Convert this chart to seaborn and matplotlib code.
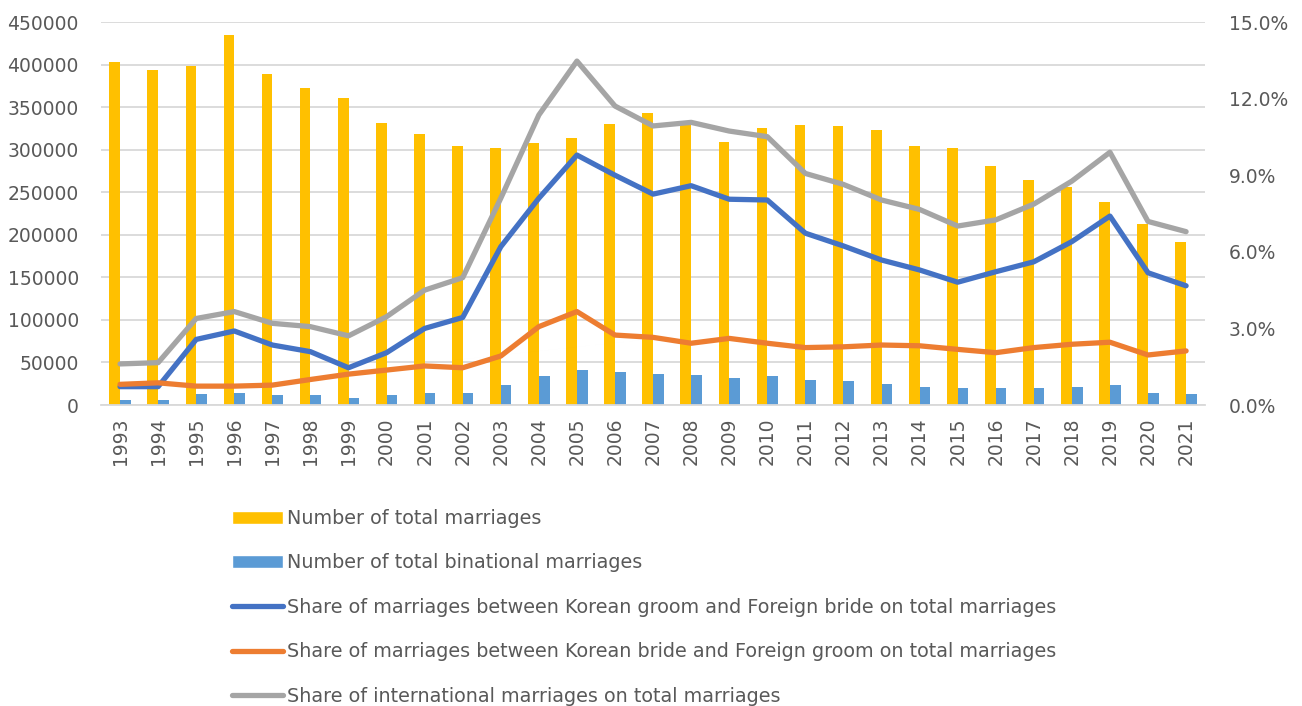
import seaborn as sns
import matplotlib.pyplot as plt
import matplotlib.ticker as mticker
from matplotlib.patches import Patch
from matplotlib.lines import Line2D
import numpy as np
import pandas as pd

years = [str(y) for y in range(1993, 2022)]
# bars, left axis
total_marriages = [402600, 393600, 398300, 434400, 388900, 372500, 360400, 331700, 318400, 304700,
                   302000, 307900, 313700, 330200, 343500, 329000, 309400, 325800, 329000, 327400,
                   322700, 304700, 302000, 280800, 264400, 256500, 238500, 212700, 191900]
binational_marriages = [5500, 5500, 12500, 14500, 11400, 11400, 8600, 11400, 14500, 14500,
                        23500, 34000, 41500, 38400, 36800, 35300, 32000, 33700, 29400, 27800,
                        24700, 21500, 20400, 20400, 20400, 21500, 23100, 14100, 12500]
# lines, right axis (share, %)
share_groom_bride = [0.72, 0.72, 2.57, 2.90, 2.35, 2.09, 1.46, 2.05, 3.00, 3.43,
                     6.20, 8.10, 9.79, 9.00, 8.26, 8.59, 8.06, 8.03, 6.73, 6.23,
                     5.68, 5.29, 4.81, 5.22, 5.61, 6.40, 7.40, 5.18, 4.67]
share_bride_groom = [0.81, 0.87, 0.74, 0.74, 0.78, 1.00, 1.21, 1.37, 1.53, 1.46,
                     1.92, 3.07, 3.66, 2.74, 2.65, 2.42, 2.61, 2.42, 2.25, 2.28,
                     2.35, 2.32, 2.18, 2.05, 2.25, 2.38, 2.46, 1.96, 2.12]
share_international = [1.61, 1.66, 3.39, 3.66, 3.20, 3.07, 2.71, 3.46, 4.50, 4.99,
                       8.10, 11.36, 13.47, 11.71, 10.93, 11.07, 10.73, 10.51, 9.07, 8.64,
                       8.03, 7.66, 7.01, 7.25, 7.87, 8.77, 9.90, 7.19, 6.79]

bar_labels = ["Number of total marriages", "Number of total binational marriages"]
line_labels = ["Share of marriages between Korean groom and Foreign bride on total marriages",
               "Share of marriages between Korean bride and Foreign groom on total marriages",
               "Share of international marriages on total marriages"]
bar_colors = ["#FFC000", "#5B9BD5"]
line_colors = ["#4472C4", "#ED7D31", "#A5A5A5"]

sns.set_style("white")
plt.rcParams['font.family'] = ['DejaVu Sans']
txt = "#595959"
fs = 13.5

bars = pd.DataFrame({
    "year": years * 2,
    "value": total_marriages + binational_marriages,
    "series": [bar_labels[0]] * len(years) + [bar_labels[1]] * len(years),
})
lines = pd.DataFrame({
    "pos": list(range(len(years))) * 3,
    "share": np.array(share_groom_bride + share_bride_groom + share_international) / 100,
    "series": sum([[lab] * len(years) for lab in line_labels], []),
})

fig = plt.figure(figsize=(13.02, 7.06), dpi=100)
ax = fig.add_axes([0.0776, 0.4263, 0.848, 0.5425])

sns.barplot(data=bars, x="year", y="value", hue="series", palette=dict(zip(bar_labels, bar_colors)),
            width=0.56, saturation=1, linewidth=0, legend=False, ax=ax, zorder=2)
ax.set_ylim(0, 450000)
ax.set_xlim(-0.5, len(years) - 0.5)
ax.yaxis.set_major_locator(mticker.MultipleLocator(50000))
ax.grid(axis="y", color="#D9D9D9", linewidth=1.3, zorder=0)
ax.set_axisbelow(True)
for s in ["top", "left", "right"]:
    ax.spines[s].set_visible(False)
ax.spines["bottom"].set_color("#D9D9D9")
ax.spines["bottom"].set_linewidth(1.3)
ax.set_xlabel("")
ax.set_ylabel("")
ax.tick_params(axis="y", length=0, pad=16, labelsize=fs, labelcolor=txt)
ax.tick_params(axis="x", length=0, pad=9, labelsize=fs, labelcolor=txt, labelrotation=90)

ax2 = ax.twinx()
sns.lineplot(data=lines, x="pos", y="share", hue="series", palette=dict(zip(line_labels, line_colors)),
             linewidth=3.8, legend=False, ax=ax2)
ax2.set_ylim(0, 0.15)
ax2.set_xlim(-0.5, len(years) - 0.5)
ax2.yaxis.set_major_locator(mticker.MultipleLocator(0.03))
ax2.yaxis.set_major_formatter(mticker.PercentFormatter(1.0, decimals=1))
for s in ["top", "left", "right", "bottom"]:
    ax2.spines[s].set_visible(False)
ax2.set_xlabel("")
ax2.set_ylabel("")
ax2.tick_params(axis="y", length=0, pad=17, labelsize=fs, labelcolor=txt)

handles = [Patch(facecolor=c) for c in bar_colors] + \
          [Line2D([0], [0], color=c, linewidth=3.8, solid_capstyle="round") for c in line_colors]
leg = fig.legend(handles, bar_labels + line_labels, loc="upper left",
                 bbox_to_anchor=(0.1725, 0.29), frameon=False, fontsize=13.8,
                 handlelength=2.65, handleheight=0.7, handletextpad=0.2, labelspacing=1.33,
                 borderaxespad=0)
for t in leg.get_texts():
    t.set_color(txt)

fig.savefig("out.png", dpi=100)
